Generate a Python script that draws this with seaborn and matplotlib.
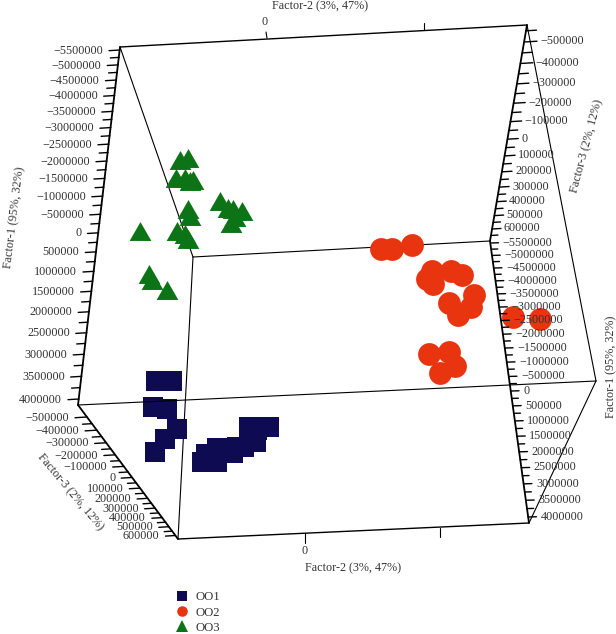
import seaborn as sns
import matplotlib.pyplot as plt
from matplotlib.lines import Line2D

# ---------- scores, as projected on the page ----------
oo1_x = [156, 172, 153, 167, 177, 165, 155, 202, 217, 206, 217, 233, 237, 244, 256, 249, 269, 257]
oo1_y = [381, 381, 407, 409, 429, 439, 452, 462, 462, 454, 448, 453, 447, 447, 442, 427, 427, 430]

oo2_x = [381, 392, 412, 432, 427, 433, 451, 462, 474, 449, 471, 458, 513, 540, 429, 449, 455, 440]
oo2_y = [249, 249, 245, 271, 279, 284, 271, 275, 295, 303, 307, 315, 317, 319, 354, 352, 366, 373]

oo3_x = [180, 188, 176, 185, 193, 190, 220, 228, 233, 242, 235, 231, 188, 190, 177, 185, 188, 140, 149, 152, 167]
oo3_y = [160, 158, 178, 178, 180, 181, 201, 208, 209, 211, 217, 223, 209, 216, 231, 234, 239, 231, 274, 280, 290]

# ---------- axis tick labels ----------
factor1_ticks = [-5500000, -5000000, -4500000, -4000000, -3500000, -3000000, -2500000, -2000000, -1500000, -1000000,
                 -500000, 0, 500000, 1000000, 1500000, 2000000, 2500000, 3000000, 3500000, 4000000]
factor3_ticks = [-500000, -400000, -300000, -200000, -100000, 0, 100000, 200000, 300000, 400000, 500000, 600000]

NAVY = "#0e0b52"
RED = "#e8340f"
GREEN = "#0c7417"
TEXT = "#333333"
FS = 8.7

sns.set_theme(style="white")
plt.rcParams["font.family"] = ["Liberation Serif", "DejaVu Serif"]

fig = plt.figure(figsize=(6.16, 6.34), dpi=100)
ax = fig.add_axes([0, 0, 1, 1])
ax.set_xlim(0, 616)
ax.set_ylim(634, 0)
ax.axis("off")

# ---------- box ----------
A, B, C, D = (120, 47), (527, 25), (78, 405), (178, 539)
E, F, G, R = (529, 523), (193, 257), (490, 241), (596, 381)


def edge(p, q, lw=0.8, z=1):
    ax.plot([p[0], q[0]], [p[1], q[1]], color="black", lw=lw, zorder=z, solid_capstyle="round")


for p, q in [(A, F), (F, G), (F, D), (R, B), (R, E)]:
    edge(p, q)
edge(C, R, 0.8, 3)
for p, q in [(A, B), (D, E)]:
    edge(p, q, 1.0)
for p, q in [(A, C), (C, D), (G, B), (G, E)]:
    edge(p, q, 1.3, 3)


# ticks are spaced with a small perspective factor r
def place(v, ticks, p0, p1, r):
    t = (v - ticks[0]) / (ticks[-1] - ticks[0])
    s = t / (t + r * (1 - t))
    return p0[0] + s * (p1[0] - p0[0]), p0[1] + s * (p1[1] - p0[1]), s


def draw_axis(ticks, p0, p1, r, direction, len0, len1, gap, ha, extra=()):
    step = ticks[1] - ticks[0]
    minors = [v + step / 2 for v in ticks[:-1]] + list(extra)
    for v in minors:
        x, y, s = place(v, ticks, p0, p1, r)
        n = (len0 + s * (len1 - len0)) * 0.8
        ax.plot([x, x + direction[0] * n], [y, y + direction[1] * n], color="black", lw=1.0, zorder=3)
    for v in ticks:
        x, y, s = place(v, ticks, p0, p1, r)
        n = len0 + s * (len1 - len0)
        xe, ye = x + direction[0] * n, y + direction[1] * n
        ax.plot([x, xe], [y, ye], color="black", lw=1.0, zorder=3)
        sign = 1 if direction[0] > 0 else -1
        label = str(v).replace("-", "\u2212")
        ax.text(xe + sign * gap, ye, label, ha=ha, va="center", fontsize=FS, color=TEXT, zorder=4)


draw_axis(factor1_ticks, (120, 50), (79, 399), 1.25, (-1, 0.06), 11, 11, 6, "right")
draw_axis(factor1_ticks, (490.5, 243), (528, 517), 1.17, (1, -0.03), 8, 8.5, 4, "left")
draw_axis(factor3_ticks, (87, 417), (175.5, 535.5), 0.8, (-1, 0.06), 12, 10, 6, "right")
draw_axis(factor3_ticks, (524, 42), (492, 229), 0.77, (1, -0.06), 13, 9, 3, "left", extra=[-550000, 650000])

# Factor-2 has only two ticks top and bottom
ax.plot([267, 266], [38, 32], color="black", lw=0.8)
ax.plot([424, 424], [30, 23], color="black", lw=0.8)
ax.plot([305, 305], [533, 543], color="black", lw=0.8)
ax.plot([440, 440], [528, 537], color="black", lw=0.8)
ax.text(265, 22, "0", ha="center", va="center", fontsize=FS, color=TEXT)
ax.text(305, 551, "0", ha="center", va="center", fontsize=FS, color=TEXT)

# ---------- axis titles ----------
title2 = "Factor-2 (3%, 47%)"
title1 = "Factor-1 (95%, 32%)"
title3 = "Factor-3 (2%, 12%)"
ax.text(320, 6, title2, ha="center", va="center", fontsize=FS, color=TEXT)
ax.text(353, 568, title2, ha="center", va="center", fontsize=FS, color=TEXT)
ax.text(15, 217, title1, ha="center", va="center", rotation=83, rotation_mode="anchor", fontsize=FS, color=TEXT)
ax.text(611, 367, title1, ha="center", va="center", rotation=90, rotation_mode="anchor", fontsize=FS, color=TEXT)
ax.text(587, 146, title3, ha="center", va="center", rotation=75, rotation_mode="anchor", fontsize=FS, color=TEXT)
ax.text(70, 492, title3, ha="center", va="center", rotation=-50, rotation_mode="anchor", fontsize=FS, color=TEXT)

# ---------- scores ----------
triangle = [(-1, -0.87), (1, -0.87), (0, 0.87)]
sns.scatterplot(x=oo1_x, y=oo1_y, ax=ax, color=NAVY, marker="s", s=225, linewidth=0, zorder=2)
sns.scatterplot(x=oo2_x, y=oo2_y, ax=ax, color=RED, marker="o", s=270, linewidth=0, zorder=2)
sns.scatterplot(x=oo3_x, y=oo3_y, ax=ax, color=GREEN, marker=triangle, s=245, linewidth=0, zorder=2)

# ---------- legend ----------
handles = [
    Line2D([], [], ls="", marker="s", color=NAVY, markersize=7.2, markeredgewidth=0, label="OO1"),
    Line2D([], [], ls="", marker="o", color=RED, markersize=7.6, markeredgewidth=0, label="OO2"),
    Line2D([], [], ls="", marker="^", color=GREEN, markersize=8.2, markeredgewidth=0, label="OO3"),
]
ax.legend(handles=handles, loc="upper left", bbox_to_anchor=(174 / 616, 1 - 591.5 / 634), frameon=False,
          fontsize=9.2, labelcolor=TEXT, labelspacing=0.25, handlelength=1.2, handletextpad=0.5,
          borderpad=0, borderaxespad=0)

fig.savefig("out.png", dpi=100)
